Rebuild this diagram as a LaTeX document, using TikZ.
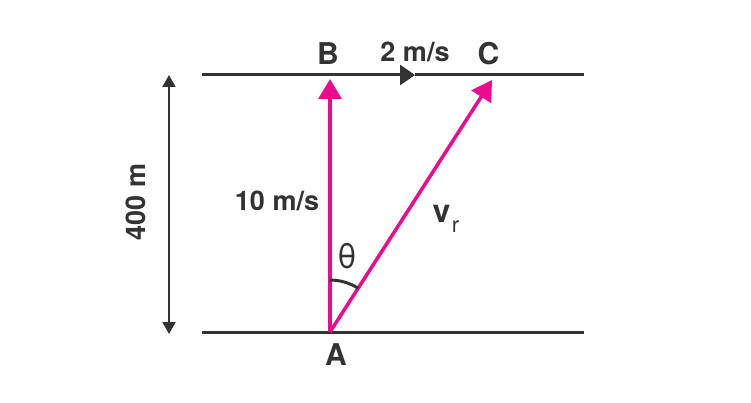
\documentclass[tikz,border=0pt]{standalone}
\usepackage{fontspec}
\setmainfont{TeX Gyre Heros}
\usetikzlibrary{arrows.meta}
\definecolor{ink}{HTML}{333333}
\definecolor{vpink}{HTML}{EC0B8C}
\begin{document}
\begin{tikzpicture}[x=1pt,y=1pt,
  lbl/.style={font=\fontsize{27}{27}\selectfont\bfseries, text=ink, inner sep=0pt, anchor=base},
  pointlbl/.style={font=\fontsize{30}{30}\selectfont\bfseries, text=ink, inner sep=0pt, anchor=base},
  lblreg/.style={font=\fontsize{34}{34}\selectfont, text=ink, inner sep=0pt, anchor=base},
  sub/.style={font=\fontsize{22}{22}\selectfont, text=ink, inner sep=0pt, anchor=base},
  bank/.style={draw=ink, line width=3pt},
  flowtip/.style={-{Triangle[length=15pt,width=20pt]}},
  vel/.style={draw=vpink, line width=3.5pt, -{Triangle[length=20pt,width=23pt]}},
  dim/.style={draw=ink, line width=2pt, {Triangle[length=12pt,width=13pt]}-{Triangle[length=12pt,width=13pt]}},
  anglearc/.style={draw=ink, line width=3pt}]
\useasboundingbox (0,0) rectangle (751,402);
% banks
\coordinate (TL) at (202,327);
\coordinate (TM) at (415,327);
\coordinate (TR) at (584,327);
\coordinate (BL) at (202,70);
\coordinate (BR) at (584,70);
\draw[bank, flowtip] (TL) -- (TM);
\draw[bank] (TM) -- (TR);
\draw[bank] (BL) -- (BR);
% points
\coordinate (A) at (330,70);
\coordinate (Btip) at (330,323);
\coordinate (Ctip) at (492,322);
% velocity arrows
\draw[vel] (A) -- (Btip);
\draw[vel] (A) -- (Ctip);
% angle arc
\draw[anglearc] (A) ++(90:52) arc[start angle=90, end angle=57.3, radius=52];
% dimension
\coordinate (D1) at (169,327);
\coordinate (D2) at (169,68);
\draw[dim] (D1) -- (D2);
% labels
\node[pointlbl] (labB) at (328,337) {B};
\node[pointlbl] (labC) at (488.5,337) {C};
\node[pointlbl] (labA) at (336,37) {A};
\node[lbl] (lab2) at (415,340) {2 m/s};
\node[lbl] (lab10) at (277,192) {10 m/s};
\node[lbl, rotate=90] (lab400) at (145,200) {400 m};
\node[pointlbl, font=\fontsize{32}{32}\selectfont\bfseries] (labv) at (441.5,180) {v};
\node[sub] (labr) at (455.5,170) {r};
\node[lblreg] (labth) at (347.5,134) {θ};
\end{tikzpicture}
\end{document}
